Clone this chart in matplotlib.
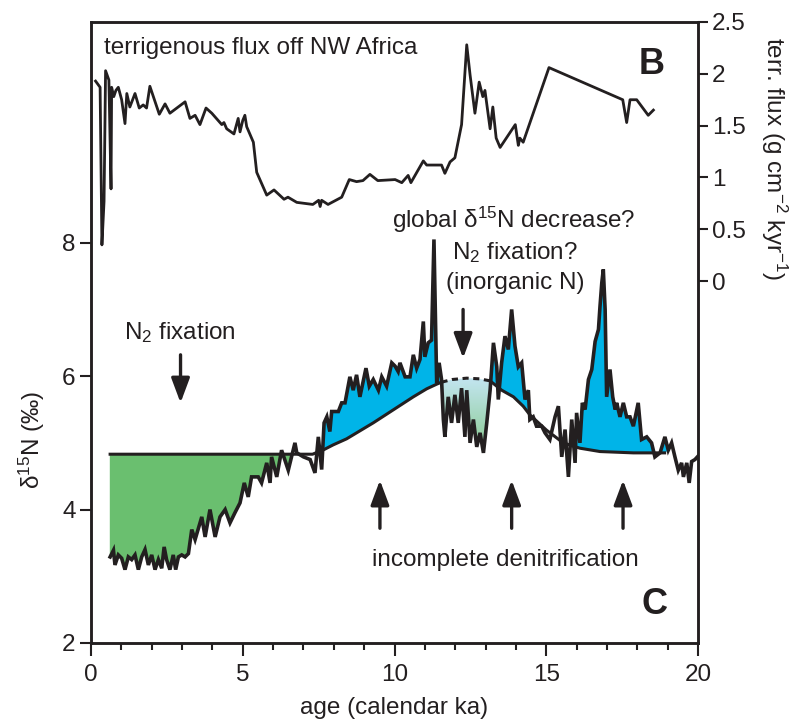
import numpy as np
import matplotlib
matplotlib.use("Agg")
import matplotlib.pyplot as plt
from matplotlib.colors import LinearSegmentedColormap

plt.rcParams['font.family'] = ['Liberation Sans', 'DejaVu Sans']
plt.rcParams['mathtext.fontset'] = 'custom'
plt.rcParams['mathtext.rm'] = 'Liberation Sans'
plt.rcParams['mathtext.it'] = 'Liberation Sans:italic'
plt.rcParams['mathtext.bf'] = 'Liberation Sans:bold'

# terrigenous flux (g cm-2 kyr-1), panel B
flux_age = [0.15, 0.30, 0.36, 0.43, 0.48, 0.59, 0.66, 0.68, 0.75, 0.82, 0.90, 1.01, 1.12, 1.18,
            1.28, 1.45, 1.59, 1.72, 1.83, 1.94, 2.25, 2.44, 2.60, 3.10, 3.26, 3.43, 3.59, 3.79,
            3.98, 4.31, 4.38, 4.47, 4.71, 4.85, 4.91, 5.00, 5.07, 5.13, 5.35, 5.46, 5.79, 6.03,
            6.36, 6.49, 6.78, 7.31, 7.50, 7.55, 7.60, 7.81, 8.26, 8.51, 8.75, 8.96, 9.19, 9.45,
            10.02, 10.24, 10.45, 10.54, 10.95, 11.06, 11.55, 11.66, 11.83, 11.99, 12.21, 12.38,
            12.49, 12.65, 12.79, 12.91, 12.98, 13.15, 13.24, 13.35, 13.48, 13.98, 14.08, 14.13,
            14.24, 15.09, 17.52, 17.65, 17.76, 17.98, 18.36, 18.53]
flux = [1.93, 1.87, 0.35, 0.77, 2.03, 1.94, 0.89, 1.87, 1.78, 1.84, 1.87, 1.75, 1.52, 1.81,
        1.68, 1.81, 1.67, 1.70, 1.67, 1.88, 1.61, 1.71, 1.62, 1.73, 1.57, 1.60, 1.51, 1.67,
        1.62, 1.51, 1.53, 1.47, 1.42, 1.57, 1.44, 1.55, 1.60, 1.49, 1.34, 1.05, 0.83, 0.88,
        0.79, 0.81, 0.76, 0.74, 0.78, 0.72, 0.78, 0.74, 0.81, 0.98, 0.96, 0.97, 1.03, 0.97,
        0.98, 0.95, 1.02, 0.95, 1.16, 1.12, 1.12, 1.04, 1.15, 1.19, 1.51, 2.28,
        1.99, 1.62, 1.92, 1.78, 1.84, 1.47, 1.68, 1.38, 1.29, 1.51, 1.31, 1.38,
        1.34, 2.06, 1.75, 1.53, 1.75, 1.75, 1.60, 1.65]

# sedimentary d15N (permil), panel C
d15_age = [0.63, 0.74, 0.79, 0.90, 1.01, 1.12, 1.23, 1.34, 1.45, 1.56, 1.67, 1.78, 1.89, 2.00,
           2.11, 2.22, 2.33, 2.41, 2.49, 2.60, 2.71, 2.79, 2.88, 2.99, 3.10, 3.21, 3.32, 3.43,
           3.65, 3.76, 3.92, 4.09, 4.25, 4.42, 4.58, 4.74, 4.91, 5.05, 5.18, 5.29, 5.51, 5.62,
           5.79, 5.90, 5.95, 6.12, 6.28, 6.50, 6.72, 6.78, 7.00, 7.22, 7.38, 7.49, 7.60, 7.68,
           7.77, 7.87, 7.93, 8.15, 8.26, 8.37, 8.53, 8.64, 8.75, 8.86, 9.06, 9.17, 9.30, 9.47,
           9.58, 9.74, 9.91, 10.02, 10.12, 10.18, 10.35, 10.51, 10.62, 10.73, 10.84, 10.95,
           11.00, 11.11, 11.22, 11.30, 11.39, 11.47, 11.55, 11.61, 11.66, 11.77, 11.88, 11.99,
           12.10, 12.21, 12.32, 12.38, 12.49, 12.60, 12.71, 12.82, 12.93, 13.04, 13.15, 13.26,
           13.37, 13.42, 13.53, 13.64, 13.75, 13.86, 13.97, 14.08, 14.19, 14.30, 14.41, 14.46,
           14.57, 14.68, 14.85, 14.96, 15.12, 15.29, 15.40, 15.51, 15.62, 15.73, 15.84, 15.95,
           16.00, 16.11, 16.19, 16.28, 16.39, 16.50, 16.61, 16.72, 16.77, 16.83, 16.88, 16.94,
           16.99, 17.10, 17.19, 17.27, 17.32, 17.43, 17.54, 17.65, 17.76, 17.87, 18.03, 18.14,
           18.31, 18.47, 18.58, 18.75, 18.91, 19.02, 19.13, 19.24, 19.35, 19.46, 19.52, 19.63,
           19.71, 19.79, 19.90, 20.00]
d15 = [3.29, 3.39, 3.17, 3.32, 3.27, 3.10, 3.29, 3.25, 3.32, 3.10, 3.29, 3.40, 3.17, 3.32,
       3.10, 3.25, 3.12, 3.44, 3.25, 3.10, 3.32, 3.10, 3.29, 3.32, 3.29, 3.34, 3.70, 3.55,
       3.89, 3.59, 4.00, 3.59, 3.89, 4.00, 3.80, 3.95, 4.10, 4.40, 4.19, 4.49, 4.49, 4.40,
       4.70, 4.40, 4.79, 4.49, 4.89, 4.59, 5.00, 4.85, 4.79, 4.75, 4.55, 5.09, 4.60, 5.30,
       5.39, 5.17, 5.47, 5.47, 5.60, 5.60, 5.99, 5.79, 6.02, 5.69, 6.12, 5.85, 5.95, 5.79,
       5.99, 5.85, 6.20, 6.15, 6.07, 6.20, 5.99, 5.99, 6.32, 6.12, 6.25, 6.82,
       6.29, 6.50, 6.54, 8.05, 5.90, 6.20, 5.95, 5.35, 5.09, 5.69, 5.30, 5.72,
       5.30, 5.82, 5.09, 5.79, 5.00, 5.35, 4.94, 5.15, 4.85, 5.30, 5.79, 6.50,
       6.14, 5.65, 6.20, 6.60, 6.40, 7.00, 6.45, 6.14, 6.20, 5.65, 5.79, 5.35,
       5.39, 5.25, 5.25, 5.15, 5.05, 5.39, 5.55, 4.79, 5.20, 4.49, 5.35, 4.70,
       5.45, 5.00, 5.60, 5.50, 5.95, 6.10, 6.52, 6.70, 7.04, 7.40, 7.60, 7.00,
       5.69, 6.10, 5.69, 5.50, 5.60, 5.39, 5.60, 5.39, 5.39, 5.25, 5.60, 5.05,
       5.09, 5.00, 4.79, 4.85, 5.09, 4.89, 5.00, 4.79, 4.59, 4.70, 4.49, 4.70,
       4.40, 4.72, 4.75, 4.80]

# reference curve (no incomplete denitrification)
base_age = [0.63, 7.30, 7.68, 7.98, 8.42, 8.86, 9.30, 9.74, 10.18, 10.62, 11.06, 11.39,
            11.55, 11.90, 12.38, 12.80, 13.15, 13.53, 13.92, 14.24, 14.46, 15.01, 15.56,
            16.11, 16.77, 17.87, 18.90]
base_d15 = [4.83, 4.83, 4.90, 4.97, 5.06, 5.18, 5.30, 5.43, 5.56, 5.69, 5.81, 5.88,
            5.91, 5.95, 5.97, 5.96, 5.93, 5.79, 5.69, 5.55, 5.42, 5.19, 5.00,
            4.92, 4.87, 4.85, 4.85]

GREEN = '#6abf6f'
BLUE = '#00b4e8'
INK = '#231f20'

fig = plt.figure(figsize=(8, 7.28), dpi=100)
ax = fig.add_axes([0.11375, 0.1168, 0.75875, 0.853])
ax2 = ax.twinx()

x = np.array(d15_age)
d = np.array(d15)
bx = np.array(base_age)
by = np.array(base_d15)
base = np.interp(x, bx, by)

# green: N2 fixation (early Holocene)
ax.fill_between(x, d, base, where=(x < 7.0) & (d < base), interpolate=True,
                facecolor=GREEN, edgecolor='none', zorder=1)
# blue: incomplete denitrification
denit = (((x > 7.6) & (x < 11.6)) | ((x > 13.1) & (x < 14.6)) | ((x > 15.9) & (x < 19.0)))
ax.fill_between(x, d, base, where=denit & (d > base), interpolate=True,
                facecolor=BLUE, edgecolor='none', zorder=1)
# gradient: N2 fixation? (inorganic N)
mid = (x >= 11.55) & (x <= 13.15)
poly = ax.fill_between(x, d, base, where=mid & (d < base), interpolate=True,
                       facecolor='none', edgecolor='none', zorder=1)
cmap = LinearSegmentedColormap.from_list('gb', ['#86c98a', '#c3e5f1'])
grad = np.linspace(0, 1, 100).reshape(-1, 1)
im = ax.imshow(grad, cmap=cmap, origin='lower', aspect='auto',
               extent=[11.5, 13.2, 4.8, 5.97], zorder=1)
im.set_clip_path(poly.get_paths()[0], transform=ax.transData)

# reference curve: solid, dashed over the fixation interval, solid again
seg1 = bx <= 11.55
seg2 = (bx >= 11.55) & (bx <= 13.15)
seg3 = bx >= 13.15
ax.plot(bx[seg1], by[seg1], color=INK, lw=2.2, zorder=2)
ax.plot(bx[seg2], by[seg2], color=INK, lw=2.2, ls=(0, (2, 1.5)), zorder=2)
ax.plot(bx[seg3], by[seg3], color=INK, lw=2.2, zorder=2)
ax.plot([x[0], x[0]], [d[0], base[0]], color=GREEN, lw=1, zorder=1)

ax.plot(x, d, color=INK, lw=2.6, zorder=3, solid_joinstyle='miter')

ax2.plot(flux_age, flux, color=INK, lw=2.0)

# axes
ax.set_xlim(0, 20)
ax.set_ylim(2, 11.31)
ax2.set_ylim(-3.49, 2.5)
ax.set_xticks([0, 5, 10, 15, 20])
ax.set_xticks(np.arange(0, 21, 1), minor=True)
ax.set_yticks([2, 4, 6, 8])
ax2.set_yticks([0, 0.5, 1, 1.5, 2, 2.5])
ax2.set_yticklabels(['0', '0.5', '1', '1.5', '2', '2.5'])
for a in (ax, ax2):
    for s in a.spines.values():
        s.set_linewidth(1.8)
        s.set_color(INK)
ax.tick_params(axis='x', which='major', direction='out', length=9, width=1.5,
               labelsize=17.5, pad=6, colors=INK)
ax.tick_params(axis='x', which='minor', direction='out', length=5, width=1.5, colors=INK)
ax.tick_params(axis='y', direction='out', length=8, width=1.5, labelsize=17.5, pad=3, colors=INK)
ax2.tick_params(axis='y', direction='out', length=7, width=1.5, labelsize=17.5, pad=3, colors=INK)

ax.set_xlabel('age (calendar ka)', fontsize=17.5, color=INK, labelpad=8)
fig.text(0.04, 1 - 440 / 728, r'$\mathregular{\delta^{15}}$N (‰)', rotation=90,
         ha='center', va='center', fontsize=17.5, color=INK)
fig.text(0.968, 1 - 158 / 728, r'terr. flux (g cm$\mathregular{^{-2}}$ kyr$\mathregular{^{-1}}$)',
         rotation=270, ha='center', va='center', fontsize=17.5, color=INK)

# annotations
tk = dict(fontsize=17.5, color=INK, ha='center', va='center')
ax.text(0.43, 10.92, 'terrigenous flux off NW Africa', fontsize=17.5, color=INK,
        ha='left', va='center')
ax.text(18.48, 10.67, 'B', fontsize=26, fontweight='bold', color=INK, ha='center', va='center')
ax.text(18.58, 2.57, 'C', fontsize=26, fontweight='bold', color=INK, ha='center', va='center')
ax.text(13.94, 8.34, r'global $\mathregular{\delta^{15}}$N decrease?', **tk)
ax.text(13.97, 7.86, r'N$\mathregular{_2}$ fixation?', **tk)
ax.text(13.97, 7.40, '(inorganic N)', **tk)
ax.text(2.93, 6.65, r'N$\mathregular{_2}$ fixation', **tk)
ax.text(13.64, 3.24, 'incomplete denitrification', **tk)

arrow = dict(arrowstyle='-|>,head_length=0.75,head_width=0.28', lw=2.4, color=INK,
             mutation_scale=20, shrinkA=0, shrinkB=0)
for ax_x, tail, tip in [(2.95, 6.32, 5.60), (12.26, 7.00, 6.27),
                        (9.52, 3.72, 4.44), (13.86, 3.72, 4.44), (17.53, 3.72, 4.44)]:
    ax.annotate('', xy=(ax_x, tip), xytext=(ax_x, tail), arrowprops=arrow)

fig.savefig('out.png', dpi=100)
